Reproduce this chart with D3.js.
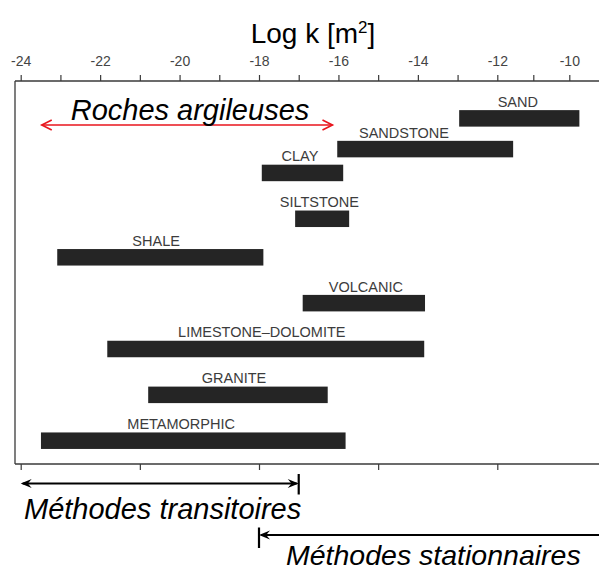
<!DOCTYPE html>
<html><head><meta charset="utf-8">
<script src="https://cdn.jsdelivr.net/npm/d3@7"></script>
<style>
html,body{margin:0;padding:0;background:#fff;}
svg{display:block;font-family:"Liberation Sans",Arial,sans-serif;}
</style></head>
<body>
<svg id="chart" width="599" height="570"></svg>
<script>
// ---- data ----
const rocks      = ["SAND","SANDSTONE","CLAY","SILTSTONE","SHALE","VOLCANIC","LIMESTONE\u2013DOLOMITE","GRANITE","METAMORPHIC"];
const logKMin    = [-12.96, -16.03, -17.93, -17.09, -23.08, -16.90, -21.82, -20.79, -23.49];
const logKMax    = [ -9.72, -11.56, -15.88, -15.73, -17.89, -13.82, -13.84, -16.27, -15.82];
const labelAt    = [-11.43, -14.35, -16.97, -16.48, -20.59, -15.31, -17.93, -18.63, -19.96];
const rowLevel   = [-0.03, 0.64, 1.16, 2.16, 3, 4, 5, 6, 7];
const topTicks   = d3.range(-24, -9, 1);
const topLabels  = [-24,-22,-20,-18,-16,-14,-12,-10];
const bottomTicks= [-24,-21,-18,-15,-12];
const argileRange     = [-23.47, -16.15];
const transitoireRange= [-24, -17];
const stationnaireFrom= -18;

// ---- scales ----
const svg = d3.select("#chart");
const x = d3.scaleLinear().domain([-24,-12,-10]).range([20.7,497.3,569.3]);
const y = d3.scaleLinear().domain([3,7]).range([257.3,440.7]);
const barH = 16.5;
const axisTop = 81, axisBottom = 464, frameLeft = 15;
const ink = "#3a3a3a";

// frame
svg.append("line").attr("x1",frameLeft).attr("x2",frameLeft).attr("y1",axisTop).attr("y2",axisBottom)
  .attr("stroke",ink).attr("stroke-width",1.3);
svg.append("line").attr("x1",frameLeft).attr("x2",599).attr("y1",axisTop).attr("y2",axisTop)
  .attr("stroke",ink).attr("stroke-width",1.3);
svg.append("line").attr("x1",frameLeft).attr("x2",599).attr("y1",axisBottom).attr("y2",axisBottom)
  .attr("stroke",ink).attr("stroke-width",1.3);

// top axis
const gTop = svg.append("g").attr("transform",`translate(0,${axisTop})`)
  .call(d3.axisTop(x).tickValues(topTicks).tickSize(6).tickPadding(9)
    .tickFormat(d => topLabels.includes(d) ? String(d) : ""));
gTop.select(".domain").remove();
gTop.selectAll(".tick line").attr("stroke",ink).attr("stroke-width",1.2);
gTop.selectAll(".tick text").attr("fill","#444").style("font-size","14px")
  .style("font-family",'"Liberation Sans",Arial,sans-serif');

// bottom axis
const gBot = svg.append("g").attr("transform",`translate(0,${axisBottom})`)
  .call(d3.axisBottom(x).tickValues(bottomTicks).tickSize(6).tickFormat(""));
gBot.select(".domain").remove();
gBot.selectAll(".tick line").attr("stroke",ink).attr("stroke-width",1.2);

// title
const title = svg.append("text").attr("x",313).attr("y",43.3).attr("text-anchor","middle")
  .style("font-size","28px").attr("fill","#000");
title.append("tspan").text("Log k [m");
title.append("tspan").text("2").style("font-size","17px").attr("dy",-10);
title.append("tspan").text("]").attr("dy",10);

// bars
const rows = rocks.map((r,i)=>({name:r,lo:logKMin[i],hi:logKMax[i],lab:labelAt[i],lvl:rowLevel[i]}));
svg.append("g").selectAll("rect").data(rows).join("rect")
  .attr("x",d=>x(d.lo)).attr("width",d=>x(d.hi)-x(d.lo))
  .attr("y",d=>y(d.lvl)-barH/2).attr("height",barH)
  .attr("fill","#252525");
svg.append("g").selectAll("text").data(rows).join("text")
  .attr("x",d=>x(d.lab)).attr("y",d=>y(d.lvl)-barH/2-3.3)
  .attr("text-anchor","middle").style("font-size","14.5px").attr("fill","#3c3c3c")
  .text(d=>d.name);

// arrowheads
function filledHead(g, tipX, tipY, dir, color){
  const L=11, hw=4.5;
  g.append("path").attr("d",`M${tipX},${tipY} L${tipX-dir*L},${tipY-hw} L${tipX-dir*L*0.65},${tipY} L${tipX-dir*L},${tipY+hw} Z`)
   .attr("fill",color);
}
function openHead(g, tipX, tipY, dir, color){
  const L=10, hw=5;
  g.append("path").attr("d",`M${tipX-dir*L},${tipY-hw} L${tipX},${tipY} L${tipX-dir*L},${tipY+hw}`)
   .attr("fill","none").attr("stroke",color).attr("stroke-width",1.6);
}

// Roches argileuses
const ga = svg.append("g");
const ay = 125;
ga.append("line").attr("x1",x(argileRange[0])).attr("x2",x(argileRange[1])).attr("y1",ay).attr("y2",ay)
  .attr("stroke","#e8141c").attr("stroke-width",1.6);
openHead(ga, x(argileRange[0]), ay, -1, "#e8141c");
openHead(ga, x(argileRange[1]), ay, 1, "#e8141c");
svg.append("text").attr("x",70.7).attr("y",120).style("font-size","29px").style("font-style","italic")
  .attr("fill","#000").text("Roches argileuses");

// Méthodes transitoires
const gt = svg.append("g");
const ty = 483.5;
gt.append("line").attr("x1",x(transitoireRange[0])+2).attr("x2",x(transitoireRange[1])-2).attr("y1",ty).attr("y2",ty)
  .attr("stroke","#000").attr("stroke-width",2);
filledHead(gt, x(transitoireRange[0]), ty, -1, "#000");
filledHead(gt, x(transitoireRange[1]), ty, 1, "#000");
gt.append("line").attr("x1",x(transitoireRange[1])).attr("x2",x(transitoireRange[1])).attr("y1",474).attr("y2",494.5)
  .attr("stroke","#000").attr("stroke-width",2.2);
svg.append("text").attr("x",24).attr("y",519).style("font-size","29px").style("font-style","italic")
  .attr("fill","#000").text("Méthodes transitoires");

// Méthodes stationnaires
const gs = svg.append("g");
const sy = 535;
gs.append("line").attr("x1",x(stationnaireFrom)+2).attr("x2",599).attr("y1",sy).attr("y2",sy)
  .attr("stroke","#000").attr("stroke-width",2);
filledHead(gs, x(stationnaireFrom), sy, -1, "#000");
gs.append("line").attr("x1",x(stationnaireFrom)).attr("x2",x(stationnaireFrom)).attr("y1",527.5).attr("y2",548)
  .attr("stroke","#000").attr("stroke-width",2.2);
svg.append("text").attr("x",286).attr("y",565).style("font-size","28.5px").style("font-style","italic")
  .attr("fill","#000").text("Méthodes stationnaires");
</script>
</body></html>
